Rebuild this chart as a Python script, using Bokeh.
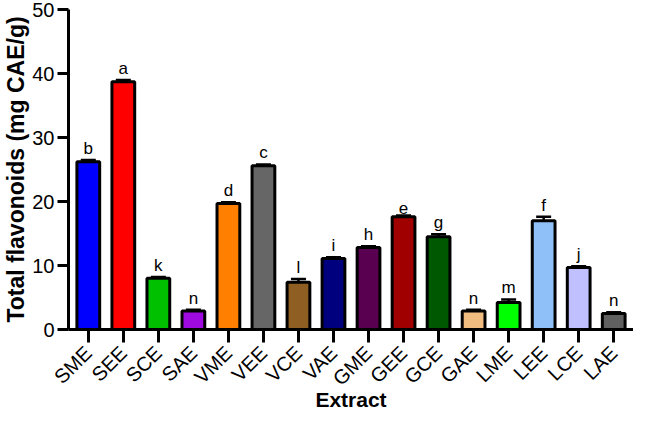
import math
from bokeh.plotting import figure
from bokeh.models import ColumnDataSource, Whisker, TeeHead, FixedTicker, Range1d
from bokeh.core.properties import value
from bokeh.embed import file_html
from bokeh.resources import INLINE

categories = ["SME", "SEE", "SCE", "SAE", "VME", "VEE", "VCE", "VAE",
              "GME", "GEE", "GCE", "GAE", "LME", "LEE", "LCE", "LAE"]
flavonoids = [26.2, 38.7, 8.0, 2.9, 19.7, 25.6, 7.4, 11.1,
              12.8, 17.6, 14.5, 2.9, 4.2, 17.0, 9.7, 2.5]
errors = [0.3, 0.3, 0.2, 0.2, 0.2, 0.2, 0.5, 0.2,
          0.2, 0.2, 0.4, 0.2, 0.5, 0.6, 0.2, 0.2]
letters = ["b", "a", "k", "n", "d", "c", "l", "i",
           "h", "e", "g", "n", "m", "f", "j", "n"]
colors = ["#0000FF", "#FF0000", "#00C000", "#9E0AE0", "#FF8000", "#666666", "#8E5E22", "#00007F",
          "#5A0050", "#A00000", "#005800", "#F0BC80", "#00FF00", "#90C0F8", "#C0C0FF", "#606060"]
y_ticks = [0, 10, 20, 30, 40, 50]
x_title = "Extract"
y_title = "Total flavonoids (mg CAE/g)"

xs = list(range(len(categories)))
src = ColumnDataSource(dict(
    x=xs,
    top=flavonoids,
    upper=[v + e for v, e in zip(flavonoids, errors)],
    color=colors,
    letter=letters,
))

FONT = "Liberation Sans"

p = figure(width=633, height=414, output_backend="svg", toolbar_location=None,
           x_range=Range1d(-0.565, 15.565), y_range=Range1d(0, 50),
           min_border_left=2, min_border_right=0, min_border_top=9, min_border_bottom=10)
p.outline_line_color = None
p.xgrid.visible = False
p.ygrid.visible = False

p.vbar(x="x", top="top", width=0.65, bottom=0, source=src,
       fill_color="color", line_color="black", line_width=3)

w = Whisker(source=src, base="x", upper="upper", lower="top", dimension="height",
            line_color="black", line_width=2.5,
            upper_head=TeeHead(size=15, line_color="black", line_width=2.5),
            lower_head=None)
p.add_layout(w)

p.text(x="x", y="upper", text="letter", source=src, text_align="center",
       text_baseline="bottom", y_offset=-2, text_font=value(FONT),
       text_font_size="17px", text_color="black")

# axes
for ax in (p.xaxis[0], p.yaxis[0]):
    ax.axis_line_width = 3
    ax.axis_line_color = "black"
    ax.major_tick_line_width = 3
    ax.major_tick_line_color = "black"
    ax.minor_tick_line_color = None
    ax.major_tick_in = 0
    ax.major_label_text_font = FONT
    ax.major_label_text_color = "black"
    ax.axis_label_text_font = FONT
    ax.axis_label_text_font_style = "bold"
    ax.axis_label_text_color = "black"

p.yaxis.ticker = FixedTicker(ticks=y_ticks)
p.yaxis.major_tick_out = 11
p.yaxis.major_label_text_font_size = "20px"
p.yaxis.major_label_standoff = 3
p.yaxis.axis_label = y_title
p.yaxis.axis_label_text_font_size = "23px"
p.yaxis.axis_label_standoff = 0

p.xaxis.ticker = FixedTicker(ticks=xs)
p.xaxis.major_label_overrides = {i: c for i, c in zip(xs, categories)}
p.xaxis.major_label_orientation = math.pi / 4
p.xaxis.major_tick_out = 13
p.xaxis.major_label_text_font_size = "20px"
p.xaxis.major_label_standoff = 7
p.xaxis.axis_label = x_title
p.xaxis.axis_label_text_font_size = "21px"
p.xaxis.axis_label_standoff = -12

open("out.html", "w").write(file_html(p, INLINE))
